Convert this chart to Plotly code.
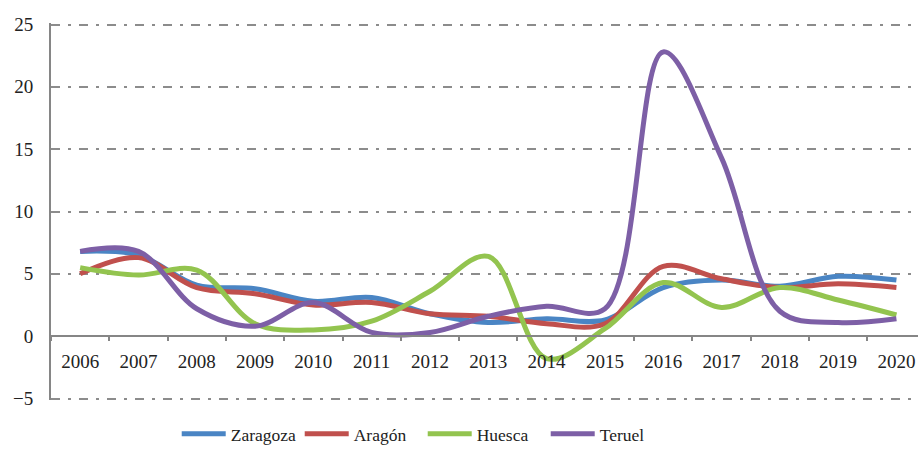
import plotly.graph_objects as go

years = [str(y) for y in range(2006, 2021)]

zaragoza = [6.8, 6.5, 4.1, 3.8, 2.8, 3.1, 1.8, 1.1, 1.4, 1.3, 3.9, 4.5, 4.0, 4.8, 4.5]
aragon = [5.0, 6.3, 3.9, 3.4, 2.5, 2.7, 1.8, 1.6, 1.0, 1.0, 5.6, 4.6, 3.9, 4.2, 3.9]
huesca = [5.5, 4.9, 5.3, 1.0, 0.5, 1.2, 3.6, 6.4, -1.8, 0.6, 4.3, 2.3, 3.9, 2.9, 1.7]
teruel = [6.8, 6.8, 2.2, 0.8, 2.7, 0.3, 0.3, 1.6, 2.4, 2.2, 22.8, 14.3, 2.0, 1.1, 1.4]

series = [
    ("Zaragoza", zaragoza, "#4a85c4"),
    ("Aragón", aragon, "#c0504d"),
    ("Huesca", huesca, "#93c44f"),
    ("Teruel", teruel, "#7d5fa6"),
]

FONT = "Times New Roman"
AXIS_GRAY = "#868686"

fig = go.Figure()
for name, values, color in series:
    fig.add_trace(go.Scatter(
        x=years, y=values, name=name, mode="lines",
        line=dict(color=color, width=5, shape="spline", smoothing=1.0),
    ))

fig.update_layout(
    width=918, height=463,
    margin=dict(l=51, r=0, t=23, b=63),
    paper_bgcolor="white", plot_bgcolor="white",
    font=dict(family=FONT, size=19, color="#222222"),
    showlegend=True,
    legend=dict(
        orientation="h", x=0.145, xanchor="left", y=-0.09, yanchor="middle",
        font=dict(family=FONT, size=17.5, color="#222222"),
        itemwidth=44, entrywidth=64, entrywidthmode="pixels",
        tracegroupgap=0, bgcolor="rgba(0,0,0,0)",
    ),
    xaxis=dict(
        type="category", range=[-0.5, 14.37],
        anchor="free", position=5.12 / 30.24,
        showline=True, linecolor=AXIS_GRAY, linewidth=2,
        showgrid=False, zeroline=False,
        ticks="outside", tickson="boundaries", ticklen=4,
        tickcolor=AXIS_GRAY, tickwidth=2,
        ticklabelstandoff=8,
        tickfont=dict(family=FONT, size=19, color="#222222"),
    ),
    yaxis=dict(
        range=[-5.12, 25.12], tickvals=[-5, 0, 5, 10, 15, 20, 25],
        showline=True, linecolor=AXIS_GRAY, linewidth=2,
        showgrid=True, gridcolor="#8c8c8c", gridwidth=1.5,
        griddash="9px,8px,3px,8px",
        zeroline=False, ticks="", ticklabelstandoff=12,
        tickfont=dict(family=FONT, size=19, color="#222222"),
    ),
)

fig.write_html("out.html")
